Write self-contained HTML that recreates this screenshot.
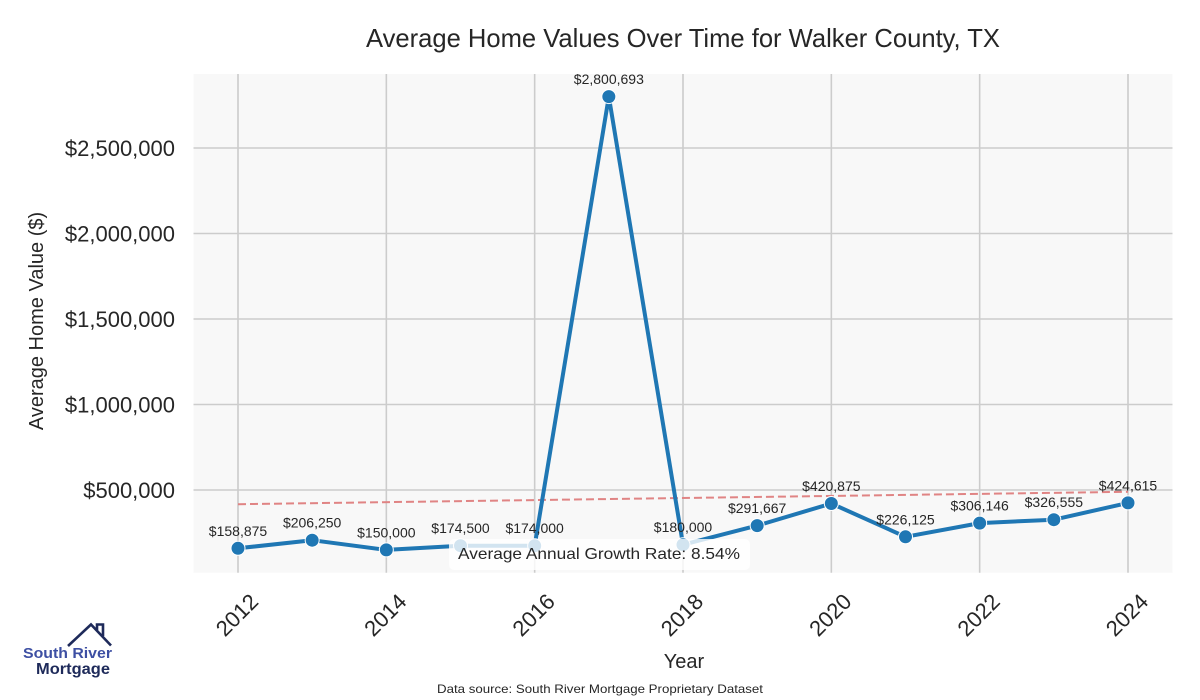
<!DOCTYPE html>
<html>
<head>
<meta charset="utf-8">
<style>
  html, body { margin: 0; padding: 0; background: #ffffff; }
  svg { display: block; }
  text { font-family: "Liberation Sans", "DejaVu Sans", sans-serif; }
</style>
</head>
<body>
<svg width="1200" height="700" viewBox="0 0 1200 700" xmlns="http://www.w3.org/2000/svg">
  <rect x="0" y="0" width="1200" height="700" fill="#ffffff"/>

  <!-- Title -->
  <text x="366" y="47" font-size="26" fill="#262626" textLength="634" lengthAdjust="spacingAndGlyphs">Average Home Values Over Time for Walker County, TX</text>

  <!-- Plot background -->
  <rect x="193.5" y="74" width="979" height="498.7" fill="#f8f8f8"/>

  <!-- Grid lines -->
  <g stroke="#cccccc" stroke-width="1.6">
    <line x1="238" y1="74" x2="238" y2="572.7"/>
    <line x1="386.33" y1="74" x2="386.33" y2="572.7"/>
    <line x1="534.67" y1="74" x2="534.67" y2="572.7"/>
    <line x1="683" y1="74" x2="683" y2="572.7"/>
    <line x1="831.33" y1="74" x2="831.33" y2="572.7"/>
    <line x1="979.67" y1="74" x2="979.67" y2="572.7"/>
    <line x1="1128" y1="74" x2="1128" y2="572.7"/>
    <line x1="193.5" y1="148" x2="1172.5" y2="148"/>
    <line x1="193.5" y1="233.5" x2="1172.5" y2="233.5"/>
    <line x1="193.5" y1="319" x2="1172.5" y2="319"/>
    <line x1="193.5" y1="404.5" x2="1172.5" y2="404.5"/>
    <line x1="193.5" y1="490" x2="1172.5" y2="490"/>
  </g>

  <!-- Y tick labels -->
  <g font-size="22" fill="#262626" text-anchor="end">
    <text x="175" y="156">$2,500,000</text>
    <text x="175" y="241.5">$2,000,000</text>
    <text x="175" y="327">$1,500,000</text>
    <text x="175" y="412.5">$1,000,000</text>
    <text x="175" y="498">$500,000</text>
  </g>

  <!-- Y axis label -->
  <text transform="translate(43,321) rotate(-90)" font-size="20" fill="#262626" text-anchor="middle">Average Home Value ($)</text>

  <!-- X tick labels -->
  <g font-size="22" fill="#262626" text-anchor="middle" dominant-baseline="central">
    <text transform="translate(237,615) rotate(-45)">2012</text>
    <text transform="translate(385.33,615) rotate(-45)">2014</text>
    <text transform="translate(533.67,615) rotate(-45)">2016</text>
    <text transform="translate(682,615) rotate(-45)">2018</text>
    <text transform="translate(830.33,615) rotate(-45)">2020</text>
    <text transform="translate(978.67,615) rotate(-45)">2022</text>
    <text transform="translate(1127,615) rotate(-45)">2024</text>
  </g>

  <!-- X axis label -->
  <text x="684" y="668" font-size="20" fill="#262626" text-anchor="middle">Year</text>

  <!-- Trend line -->
  <line x1="238" y1="504.2" x2="1128" y2="491.8" stroke="#e08484" stroke-width="2" stroke-dasharray="8,4"/>

  <!-- Data line -->
  <polyline fill="none" stroke="#1f77b4" stroke-width="4" stroke-linejoin="round"
    points="238,548.3 312.17,540.2 386.33,549.9 460.5,545.7 534.67,545.7 608.83,96.6 683,544.7 757.17,525.6 831.33,503.5 905.5,536.8 979.67,523.1 1053.83,519.7 1128,502.9"/>

  <!-- Markers -->
  <g fill="#1f77b4" stroke="#ffffff" stroke-width="1">
    <circle cx="238" cy="548.3" r="7"/>
    <circle cx="312.17" cy="540.2" r="7"/>
    <circle cx="386.33" cy="549.9" r="7"/>
    <circle cx="460.5" cy="545.7" r="7"/>
    <circle cx="534.67" cy="545.7" r="7"/>
    <circle cx="608.83" cy="96.6" r="7"/>
    <circle cx="683" cy="544.7" r="7"/>
    <circle cx="757.17" cy="525.6" r="7"/>
    <circle cx="831.33" cy="503.5" r="7"/>
    <circle cx="905.5" cy="536.8" r="7"/>
    <circle cx="979.67" cy="523.1" r="7"/>
    <circle cx="1053.83" cy="519.7" r="7"/>
    <circle cx="1128" cy="502.9" r="7"/>
  </g>

  <!-- Data labels -->
  <g font-size="14" fill="#262626" text-anchor="middle">
    <text x="238" y="535.8">$158,875</text>
    <text x="312.17" y="527.7">$206,250</text>
    <text x="386.33" y="537.4">$150,000</text>
    <text x="460.5" y="533.2">$174,500</text>
    <text x="534.67" y="533.2">$174,000</text>
    <text x="608.83" y="84.1">$2,800,693</text>
    <text x="683" y="532.2">$180,000</text>
    <text x="757.17" y="513.1">$291,667</text>
    <text x="831.33" y="491">$420,875</text>
    <text x="905.5" y="524.3">$226,125</text>
    <text x="979.67" y="510.6">$306,146</text>
    <text x="1053.83" y="507.2">$326,555</text>
    <text x="1128" y="490.4">$424,615</text>
  </g>

  <!-- Growth rate box -->
  <rect x="449" y="539" width="301" height="31" rx="5" ry="5" fill="#ffffff" fill-opacity="0.8"/>
  <text x="458" y="559" font-size="16" fill="#262626" textLength="282" lengthAdjust="spacingAndGlyphs">Average Annual Growth Rate: 8.54%</text>

  <!-- Data source -->
  <text x="437" y="693" font-size="12" fill="#262626" textLength="326" lengthAdjust="spacingAndGlyphs">Data source: South River Mortgage Proprietary Dataset</text>

  <!-- Logo -->
  <g fill="none" stroke="#1e2a5a" stroke-width="2.6" stroke-linejoin="miter" stroke-linecap="butt">
    <polyline points="68,646 91,624.5 111,645.5"/>
    <polyline points="97,630 97,624.5 103,624.5 103,636"/>
  </g>
  <text x="23" y="658" font-size="15" font-weight="bold" fill="#3d4fa3" textLength="89" lengthAdjust="spacingAndGlyphs">South River</text>
  <text x="36" y="674" font-size="16" font-weight="bold" fill="#1e2a5a" textLength="74" lengthAdjust="spacingAndGlyphs">Mortgage</text>
</svg>
</body>
</html>
